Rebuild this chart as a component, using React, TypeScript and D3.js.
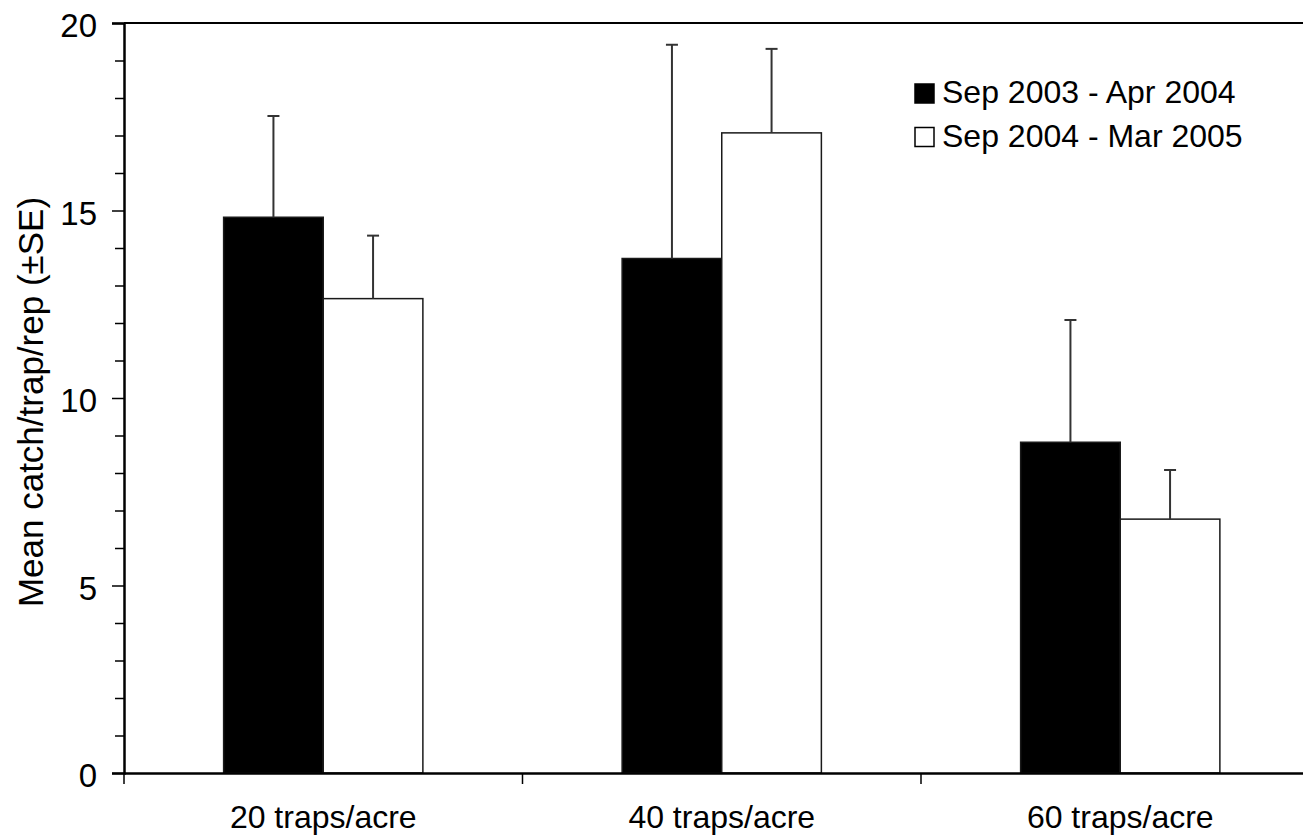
import React, { useEffect, useRef } from 'react';
import * as d3 from 'd3';

const categories = ['20 traps/acre', '40 traps/acre', '60 traps/acre'];
const seriesNames = ['Sep 2003 - Apr 2004', 'Sep 2004 - Mar 2005'];
const meanSeason1 = [14.82, 13.72, 8.82];
const seSeason1 = [2.7, 5.7, 3.26];
const meanSeason2 = [12.65, 17.07, 6.77];
const seSeason2 = [1.68, 2.24, 1.31];
const yMajorTicks = [0, 5, 10, 15, 20];

const sizing = {
  width: 1303,
  height: 837,
  left: 124,
  top: 23,
  bottom: 773,
  right: 1319.5,
};

const fontFamily = 'Arial, "Liberation Sans", sans-serif';

export default function App(): React.ReactElement {
  const ref = useRef<SVGSVGElement>(null);

  useEffect(() => {
    if (!ref.current) return;
    const svg = d3.select(ref.current);
    svg.selectAll('*').remove();

    const x0 = d3.scaleBand<string>()
      .domain(categories)
      .range([sizing.left, sizing.right])
      .padding(0);
    const bw = x0.bandwidth();
    const x1 = d3.scaleBand<number>()
      .domain([0, 1])
      .range([bw / 4, (bw * 3) / 4])
      .padding(0);

    const yScale = d3.scaleLinear().domain([0, 20]).range([sizing.bottom, sizing.top]);

    const series = [
      { means: meanSeason1, se: seSeason1, fill: '#000000' },
      { means: meanSeason2, se: seSeason2, fill: '#ffffff' },
    ];

    // bars
    series.forEach((s, si) => {
      svg.append('g')
        .selectAll('rect')
        .data(categories)
        .enter()
        .append('rect')
        .attr('x', c => (x0(c) as number) + (x1(si) as number))
        .attr('width', x1.bandwidth())
        .attr('y', (_c, i) => yScale(s.means[i]))
        .attr('height', (_c, i) => yScale(0) - yScale(s.means[i]))
        .attr('fill', s.fill)
        .attr('stroke', '#1a1a1a')
        .attr('stroke-width', 1.5);
    });

    // error bars (upper only)
    series.forEach((s, si) => {
      const g = svg.append('g').attr('stroke', '#333').attr('stroke-width', 2);
      categories.forEach((c, i) => {
        const cx = (x0(c) as number) + (x1(si) as number) + x1.bandwidth() / 2;
        const yTop = yScale(s.means[i] + s.se[i]);
        g.append('line')
          .attr('x1', cx).attr('x2', cx)
          .attr('y1', yScale(s.means[i])).attr('y2', yTop);
        g.append('line')
          .attr('x1', cx - 6).attr('x2', cx + 6)
          .attr('y1', yTop).attr('y2', yTop);
      });
    });

    // frame top
    svg.append('line')
      .attr('x1', sizing.left).attr('x2', sizing.right)
      .attr('y1', sizing.top).attr('y2', sizing.top)
      .attr('stroke', '#000').attr('stroke-width', 2);

    // y axis
    const yAxis = d3.axisLeft(yScale)
      .tickValues(yMajorTicks)
      .tickSize(12)
      .tickPadding(15)
      .tickFormat(d => `${d}`);
    const yg = svg.append('g')
      .attr('transform', `translate(${sizing.left},0)`)
      .call(yAxis);
    yg.select('.domain').attr('stroke-width', 2.5);
    yg.selectAll('.tick line').attr('stroke-width', 1.5);
    yg.selectAll('.tick text')
      .attr('font-size', '33px')
      .attr('font-family', fontFamily)
      .attr('dy', '0.42em')
      .attr('fill', '#000');

    const yMinor = d3.axisLeft(yScale)
      .tickValues(d3.range(0, 21).filter(v => v % 5 !== 0))
      .tickSize(9)
      .tickFormat(() => '');
    const ymg = svg.append('g')
      .attr('transform', `translate(${sizing.left},0)`)
      .call(yMinor);
    ymg.select('.domain').remove();
    ymg.selectAll('.tick line').attr('stroke-width', 1.5);

    // x axis
    const xAxis = d3.axisBottom(x0).tickSize(0).tickPadding(32);
    const xg = svg.append('g')
      .attr('transform', `translate(0,${sizing.bottom})`)
      .call(xAxis);
    xg.select('.domain').attr('stroke-width', 2.5);
    xg.selectAll('.tick text')
      .attr('font-size', '32px')
      .attr('font-family', fontFamily)
      .attr('fill', '#000');

    // category boundary ticks
    svg.append('g')
      .selectAll('line')
      .data(categories)
      .enter()
      .append('line')
      .attr('x1', c => x0(c) as number)
      .attr('x2', c => x0(c) as number)
      .attr('y1', sizing.bottom)
      .attr('y2', sizing.bottom + 11)
      .attr('stroke', '#000')
      .attr('stroke-width', 1.5);

    // y label
    svg.append('text')
      .attr('transform', `translate(43,${(sizing.top + sizing.bottom) / 2 + 4}) rotate(-90)`)
      .attr('text-anchor', 'middle')
      .attr('font-size', '35px')
      .attr('font-family', fontFamily)
      .attr('fill', '#000')
      .text('Mean catch/trap/rep (±SE)');

    // legend
    const legend = svg.append('g').attr('transform', 'translate(914,83)');
    seriesNames.forEach((name, i) => {
      const row = legend.append('g').attr('transform', `translate(0,${i * 43.5})`);
      row.append('rect')
        .attr('x', 1).attr('y', 1)
        .attr('width', 19).attr('height', 19)
        .attr('fill', series[i].fill)
        .attr('stroke', '#000')
        .attr('stroke-width', 1.5);
      row.append('text')
        .attr('x', 28)
        .attr('y', 20)
        .attr('font-size', '32px')
        .attr('font-family', fontFamily)
        .attr('fill', '#000')
        .text(name);
    });
  }, []);

  return (
    <div style={{ position: 'absolute', left: 0, top: 0 }}>
      <svg ref={ref} width={sizing.width} height={sizing.height} style={{ display: 'block', background: '#fff' }} />
    </div>
  );
}
